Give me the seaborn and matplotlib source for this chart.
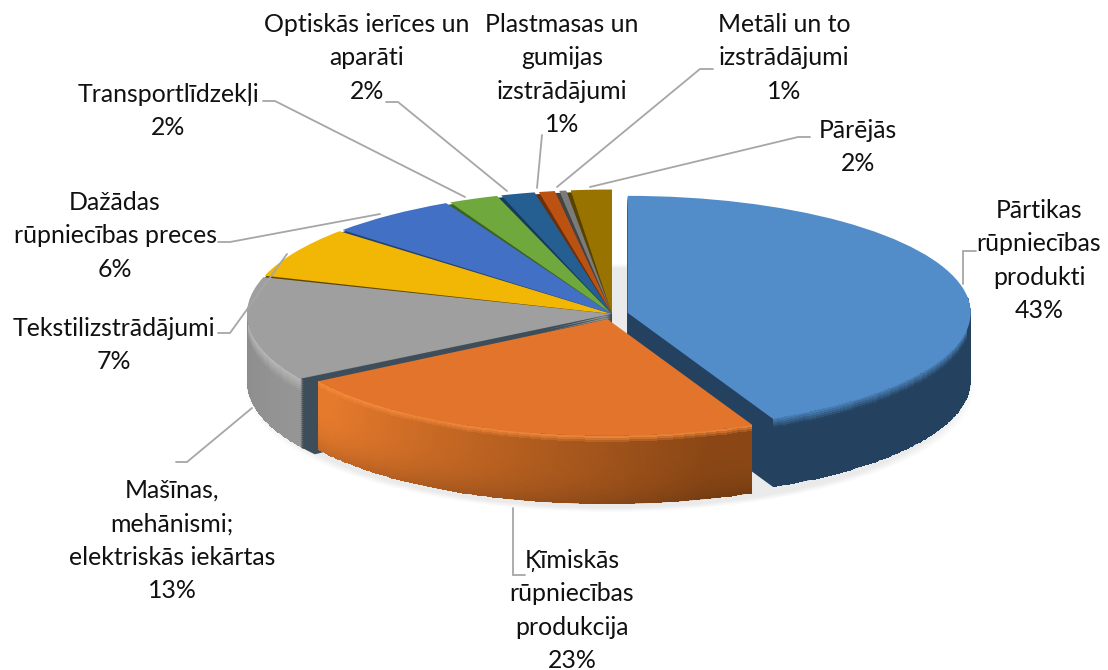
import numpy as np
import seaborn as sns
import matplotlib.pyplot as plt
from matplotlib.colors import to_rgb
from matplotlib.patches import Wedge

labels = ["Pārtikas\nrūpniecības\nprodukti\n43%",
          "Ķīmiskās\nrūpniecības\nprodukcija\n23%",
          "Mašīnas,\nmehānismi;\nelektriskās iekārtas\n13%",
          "Tekstilizstrādājumi\n7%",
          "Dažādas\nrūpniecības preces\n6%",
          "Transportlīdzekļi\n2%",
          "Optiskās ierīces un\naparāti\n2%",
          "Plastmasas un\ngumijas\nizstrādājumi\n1%",
          "Metāli un to\nizstrādājumi\n1%",
          "Pārējās\n2%"]
# the last but one slice in the picture has no label of its own
values = [43, 23, 13.7, 6.8, 5.9, 2.4, 1.7, 0.9, 0.5, 2.0]
top_colors = ["#528DC9", "#E2752B", "#9F9F9F", "#F2B705", "#4270C4",
              "#6FA83C", "#255E91", "#BC5212", "#7B7B7B", "#997300"]
side_colors = ["#24425F", "#A85A1E", "#8F8F8F", "#5E4600", "#24406F",
               "#3E6222", "#163A5A", "#6B2F0A", "#444444", "#574200"]
explode = [16, 16, 0, 0, 0, 0, 0, 0, 0, 0]
radii = [343, 342, 365, 365, 365, 365, 365, 365, 365, 365]
draw_order = [3, 4, 2, 1, 1, 1, 1, 1, 1, 1]

# label centre x, first line y, in pixels
label_pos = [(1039, 209), (572, 559), (172, 489), (114, 327), (115, 201),
             (168, 93), (367, 23), (562, 23), (784, 23), (858, 129)]
leaders = [[(963, 284), (963, 251), (976, 251)],
           [(513, 508), (513, 575), (525, 575)],
           [(252, 408), (187, 462), (176, 462)],
           [(287, 254), (230, 333), (218, 333)],
           [(380, 214), (230, 242), (218, 242)],
           [(465, 197), (275, 101), (263, 101)],
           [(507, 191), (398, 102), (386, 102)],
           [(537, 188), (542, 135)],
           [(557, 187), (700, 69), (713, 69)],
           [(590, 187), (798, 137), (810, 137)]]

W, H = 1108, 670
SQ = 0.341
CX, CY_PX = 612, 314
DEPTH = 68
STEP = 2


def to_data(py):
    return (H - py) / SQ


def mix(a, b, t):
    t = np.clip(t, 0, 1)[..., None]
    return np.array(to_rgb(a)) * (1 - t) + np.array(to_rgb(b)) * t


def wall_rgb(i, t, d):
    # t goes along the rim, d goes down the wall, both 0..1
    if i == 0:
        return mix("#4A82BA", "#24425F", d / 0.14)
    if i == 1:
        base = mix("#E67A2C", "#8A4715", (t - 0.05) / 0.85)
        base = base * (1 - 0.15 * d[..., None] ** 4)
        glow = mix("#F58B3E", "#000000", 0 * d)
        return base + (glow - base) * (1 - np.clip(d / 0.1, 0, 1))[..., None]
    base = mix("#8A8A8A", "#969696", t)
    glow = mix("#B8B8B8", "#000000", 0 * d)
    return base + (glow - base) * (1 - np.clip(d / 0.2, 0, 1))[..., None]


sns.set_theme(style="white")
plt.rcParams["font.family"] = ["Lato", "DejaVu Sans"]

fig = plt.figure(figsize=(W / 100, H / 100), dpi=100)
ax = fig.add_axes([0, 0, 1, 1])

# soft shadow below the pie
for grow in range(0, 14, 2):
    ax.pie([1], colors=["black"], center=(CX - 2, to_data(CY_PX + DEPTH + 6)),
           radius=352 + grow, wedgeprops=dict(linewidth=0, alpha=0.012, zorder=0))

# thickness: the same pie again and again, from the bottom up
for k in range(DEPTH, 0, -STEP):
    wedges, _ = ax.pie(values, explode=explode, startangle=90, counterclock=False,
                       colors=side_colors, center=(CX, to_data(CY_PX + k)),
                       radius=365, wedgeprops=dict(linewidth=0))
    for w, r, z in zip(wedges, radii, draw_order):
        w.set_radius(r)
        w.set_zorder(z + 0.3 * (1 - k / DEPTH))

top, _ = ax.pie(values, explode=explode, startangle=90, counterclock=False,
                colors=top_colors, center=(CX, to_data(CY_PX)), radius=365,
                wedgeprops=dict(linewidth=0))
for i, (w, r, z) in enumerate(zip(top, radii, draw_order)):
    w.set_radius(r)
    w.set_zorder(z + 0.6)
    if i >= 2:
        th = w.theta2
        w.set_theta2(th - (1.0 if i == 2 else 0.7))

# shaded outer walls of the three front slices
for i in [0, 1, 2]:
    w = top[i]
    cx, cy = w.center
    a0 = w.theta1 if i != 2 else -185
    a1 = min(w.theta2, 8) if i == 0 else (w.theta2 if i == 1 else -147.6)
    ang = np.radians(np.linspace(a0, a1, 90))
    deps = np.linspace(0, DEPTH, 35)
    X = cx + radii[i] * np.cos(ang)[None, :] * np.ones((35, 1))
    Y = cy + radii[i] * np.sin(ang)[None, :] - deps[:, None] / SQ
    tt, dd = np.meshgrid((np.arange(89) + 0.5) / 89, (np.arange(34) + 0.5) / 34)
    ax.pcolormesh(X, Y, np.clip(wall_rgb(i, tt, dd), 0, 1), zorder=draw_order[i] + 0.5,
                  shading="flat")

# dark cut face of the grey slice, next to the orange one
gw = top[2]
for k in range(DEPTH, -1, -STEP):
    ax.add_patch(Wedge((gw.center[0], gw.center[1] - k / SQ), 365, 211.4, 215.5,
                       facecolor="#3D4D5A", linewidth=0, zorder=2.7))

ax.set_aspect("auto")
ax.set_xlim(0, W)
ax.set_ylim(0, H / SQ)
ax.axis("off")

# labels and leader lines live in plain pixel coordinates on top
ov = fig.add_axes([0, 0, 1, 1], facecolor="none")
ov.set_xlim(0, W)
ov.set_ylim(H, 0)
ov.axis("off")
for pts in leaders:
    xs, ys = zip(*pts)
    ov.plot(xs, ys, color="#A6A6A6", linewidth=1.3, solid_joinstyle="miter")
for txt, (x, y) in zip(labels, label_pos):
    ov.text(x, y - 10, txt, ha="center", va="top", fontsize=17.9, color="#111111",
            linespacing=1.54)

fig.savefig("out.png", dpi=100)
